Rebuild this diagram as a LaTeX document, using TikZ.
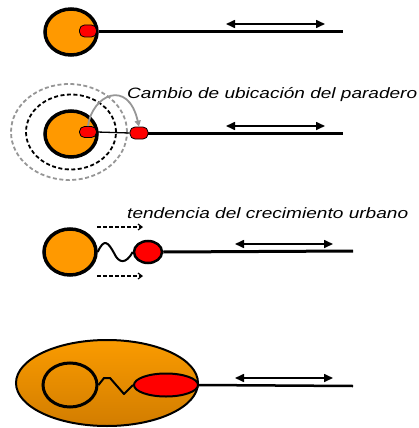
\documentclass[tikz,border=0pt]{standalone}
\usepackage{fontspec}
\usepackage{graphicx}
\usetikzlibrary{shapes.geometric,arrows.meta}
\newfontfamily\labfont{Liberation Sans}
\definecolor{townorange}{RGB}{255,153,0}
\definecolor{cityorange}{RGB}{250,155,0}
\definecolor{citydark}{RGB}{210,125,0}
\definecolor{stopred}{RGB}{255,0,0}
\definecolor{ringgray}{RGB}{150,150,150}
\tikzset{
  town/.style={ellipse, draw=black, line width=3.5pt, fill=townorange, inner sep=0pt, minimum width=52pt, minimum height=46pt},
  stopblob/.style={ellipse, draw=black, line width=0.8pt, fill=stopred, inner sep=0pt},
  stoppad/.style={rectangle, rounded corners=5pt, draw=black, line width=0.8pt, fill=stopred, inner sep=0pt},
  road/.style={draw=black, line width=3pt},
  movearrow/.style={draw=black, line width=1.6pt, {Triangle[length=9pt,width=8pt]}-{Triangle[length=9pt,width=8pt]}},
  growarrow/.style={draw=black, line width=1.2pt, dash pattern=on 3.5pt off 2.5pt, -{Straight Barb[length=4pt,width=6pt]}},
  linkline/.style={draw=black, line width=2pt, line join=round},
  labeltext/.style={anchor=base west, inner sep=0pt}
}
\begin{document}
\begin{tikzpicture}[x=1pt,y=-1pt]
\useasboundingbox (0,0) rectangle (419,428);
% ---------- row 1
\node[town] (town1) at (71,32) {};
\node[stoppad, minimum width=17pt, minimum height=12pt] (stop1) at (88,31) {};
\coordinate (end1) at (343,32);
\draw[road] (town1.east) -- (end1);
\coordinate (a1l) at (226,24);
\coordinate (a1r) at (325,24);
\draw[movearrow] (a1l) -- (a1r);
% ---------- row 2
\node[ellipse, draw=ringgray, line width=1.8pt, dash pattern=on 4pt off 2.5pt, minimum width=116pt, minimum height=96pt, inner sep=0pt] (ring2) at (69,132) {};
\node[ellipse, draw=black, line width=1.8pt, dash pattern=on 4pt off 2.5pt, minimum width=90pt, minimum height=75pt, inner sep=0pt] (ring1) at (71,132) {};
\node[town] (town2) at (71,134) {};
\node[stoppad, minimum width=17pt, minimum height=11pt] (stop2a) at (88,132) {};
\node[stoppad, minimum width=18pt, minimum height=12pt] (stop2b) at (139,133) {};
\draw[black, line width=1.3pt] (stop2a.east) -- (stop2b.west);
\coordinate (end2) at (343,133);
\draw[road] (stop2b.east) -- (end2);
\coordinate (a2l) at (226,126);
\coordinate (a2r) at (325,126);
\draw[movearrow] (a2l) -- (a2r);
\draw[ringgray, line width=1.8pt, -{Triangle[length=6pt,width=6pt]}] (stop2a.north) .. controls (92,95) and (128,78) .. (stop2b.north);
\node[labeltext] (lab1) at (127,98) {\resizebox{290pt}{\height}{\labfont\itshape\fontsize{15}{17}\selectfont Cambio de ubicación del paradero}};
% ---------- row 3
\node[town] (town3) at (70,252) {};
\node[stopblob, line width=2.5pt, minimum width=28pt, minimum height=22pt] (stop3) at (148,252) {};
\draw[linkline] (town3.east) .. controls (104,238) and (108,242) .. (114,253) .. controls (119,264) and (126,264) .. (stop3.west);
\coordinate (end3) at (353,251);
\draw[road] (stop3.east) -- (end3);
\coordinate (a3l) at (235,244);
\coordinate (a3r) at (333,244);
\draw[movearrow] (a3l) -- (a3r);
\coordinate (g1s) at (97,227);
\coordinate (g1e) at (143,227);
\coordinate (g2s) at (97,276);
\coordinate (g2e) at (143,276);
\draw[growarrow] (g1s) -- (g1e);
\draw[growarrow] (g2s) -- (g2e);
\node[labeltext] (lab2) at (127,218) {\resizebox{281pt}{\height}{\labfont\itshape\fontsize{15}{17}\selectfont tendencia del crecimiento urbano}};
% ---------- row 4
\node[ellipse, draw=black, line width=2pt, top color=cityorange, bottom color=citydark, minimum width=182pt, minimum height=86pt, inner sep=0pt] (city) at (107,383) {};
\node[ellipse, draw=black, line width=3pt, minimum width=54pt, minimum height=44pt, inner sep=0pt] (town4) at (70,385) {};
\node[stopblob, line width=2pt, minimum width=64pt, minimum height=23pt] (stop4) at (166,385) {};
\coordinate (z1) at (104,378);
\coordinate (z2) at (110,378);
\coordinate (z3) at (124,394);
\draw[linkline] (town4.east) -- (z1) -- (z2) -- (z3) -- (stop4.west);
\coordinate (end4) at (353,386);
\draw[road, line width=2.5pt] (stop4.east) -- (end4);
\coordinate (a4l) at (235,378);
\coordinate (a4r) at (333,378);
\draw[movearrow] (a4l) -- (a4r);
\end{tikzpicture}
\end{document}
